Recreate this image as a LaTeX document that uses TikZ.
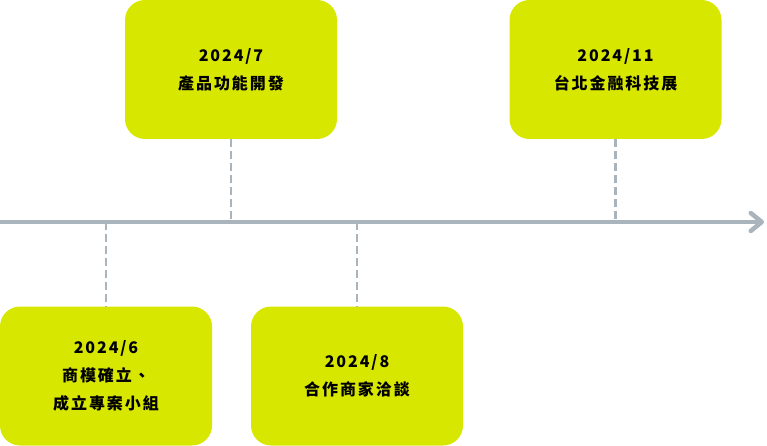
\documentclass[tikz,border=0pt]{standalone}
\usepackage{fontspec}
\usetikzlibrary{arrows.meta}
\newfontfamily\cjk{Noto Sans CJK TC}[LetterSpace=12]
\definecolor{boxlime}{RGB}{216,231,0}
\definecolor{lineg}{RGB}{169,180,188}
\tikzset{
  evbox/.style={fill=boxlime, draw=none, rounded corners=20pt, minimum width=212pt, minimum height=139pt, inner sep=0pt,
    align=center, font=\cjk\bfseries\fontsize{16}{28}\selectfont, text=black},
  tick/.style={draw=lineg, line width=2.4pt, dash pattern=on 8pt off 4pt},
  axis/.style={draw=lineg, line width=4.5pt, -{Straight Barb[length=11pt,width=18pt,round,line width=4.5pt]}}
}
\begin{document}
\begin{tikzpicture}[x=1pt,y=-1pt]
\useasboundingbox (0,0) rectangle (767,446);
\node[evbox] (b7) at (231,69.5) {2024/7\\產品功能開發};
\node[evbox] (b11) at (615.5,69.5) {2024/11\\台北金融科技展};
\node[evbox] (b6) at (106,376) {2024/6\\商模確立、\\成立專案小組};
\node[evbox] (b8) at (357,376) {2024/8\\合作商家洽談};
\coordinate (a0) at (-3,222);
\coordinate (a1) at (764,222);
\draw[axis] (a0) -- (a1);
\draw[tick] (b7.south) -- (b7.south |- a0);
\draw[tick] (b11.south) -- (b11.south |- a0);
\draw[tick] (b6.north |- a0) -- (b6.north);
\draw[tick] (b8.north |- a0) -- (b8.north);
\end{tikzpicture}
\end{document}
